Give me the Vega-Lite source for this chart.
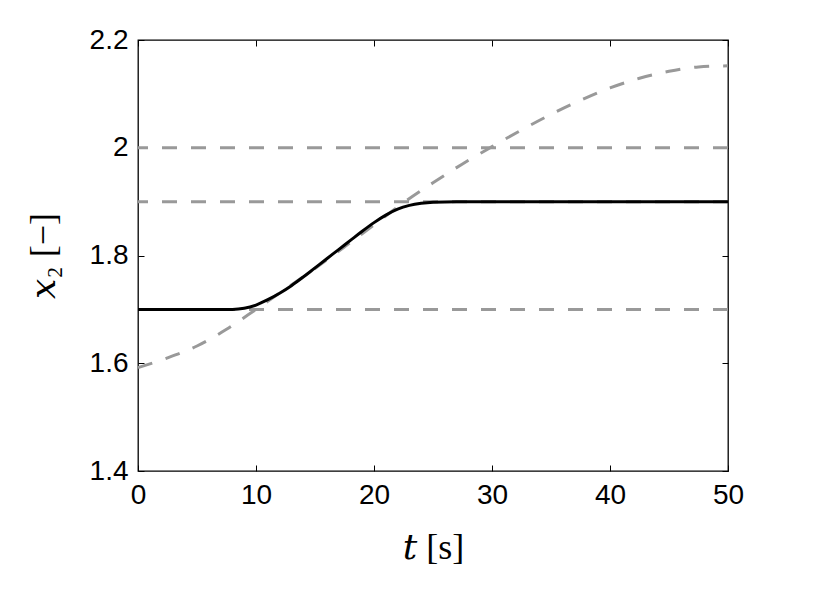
{
  "$schema": "https://vega.github.io/schema/vega-lite/v6.json",
  "width": 590,
  "height": 431,
  "autosize": {"type": "none"},
  "padding": {"left": 138, "top": 40, "right": 101, "bottom": 119},
  "background": "white",
  "config": {
    "view": {"stroke": "#000000", "strokeWidth": 1.3},
    "axis": {
      "labelFont": "Liberation Sans",
      "labelFontSize": 28,
      "labelColor": "#000000",
      "labelFlush": false,
      "labelOverlap": false,
      "tickColor": "#000000",
      "tickSize": -6,
      "tickWidth": 1,
      "domain": false,
      "gridColor": "#000000",
      "gridDash": [1.2, 9.8],
      "gridWidth": 1,
      "gridOpacity": 0.85,
      "titleFont": "Liberation Serif, DejaVu Serif",
      "titleFontWeight": "normal",
      "titleFontSize": 36,
      "titleColor": "#000000"
    }
  },
  "datasets": {
    "levels": [{"level": 1.7}, {"level": 1.9}, {"level": 2.0}],
    "state": [
      {"t": 0, "x": 1.7}, {"t": 5, "x": 1.7}, {"t": 8, "x": 1.7}, {"t": 9, "x": 1.702},
      {"t": 10, "x": 1.708}, {"t": 11, "x": 1.718}, {"t": 12, "x": 1.730}, {"t": 13, "x": 1.744},
      {"t": 14, "x": 1.760}, {"t": 15, "x": 1.777}, {"t": 16, "x": 1.794}, {"t": 17, "x": 1.811},
      {"t": 18, "x": 1.828}, {"t": 19, "x": 1.845}, {"t": 20, "x": 1.861}, {"t": 21, "x": 1.875},
      {"t": 22, "x": 1.886}, {"t": 23, "x": 1.893}, {"t": 24, "x": 1.897}, {"t": 25, "x": 1.899},
      {"t": 27, "x": 1.9}, {"t": 30, "x": 1.9}, {"t": 40, "x": 1.9}, {"t": 50, "x": 1.9}
    ],
    "reference": [
      {"t": 0, "x": 1.592}, {"t": 2.5, "x": 1.610}, {"t": 5, "x": 1.632}, {"t": 7.5, "x": 1.663},
      {"t": 10, "x": 1.700}, {"t": 12.5, "x": 1.738}, {"t": 15, "x": 1.776}, {"t": 17.5, "x": 1.816},
      {"t": 20, "x": 1.857}, {"t": 22.5, "x": 1.898}, {"t": 25, "x": 1.935}, {"t": 27.5, "x": 1.970},
      {"t": 30, "x": 2.002}, {"t": 32.5, "x": 2.033}, {"t": 35, "x": 2.062}, {"t": 37.5, "x": 2.088},
      {"t": 40, "x": 2.111}, {"t": 42.5, "x": 2.129}, {"t": 45, "x": 2.142}, {"t": 47.5, "x": 2.150},
      {"t": 50, "x": 2.152}
    ]
  },
  "resolve": {"axis": {"x": "independent", "y": "independent"}},
  "layer": [
    {
      "data": {"name": "levels"},
      "mark": {"type": "rule", "color": "#999999", "strokeWidth": 3, "strokeDash": [15, 14]},
      "encoding": {
        "y": {"field": "level", "type": "quantitative", "axis": null,
              "scale": {"domain": [1.4, 2.2], "nice": false, "zero": false}}
      }
    },
    {
      "data": {"name": "reference"},
      "mark": {"type": "line", "color": "#999999", "strokeWidth": 3, "strokeDash": [15, 14], "interpolate": "monotone"},
      "encoding": {
        "x": {"field": "t", "type": "quantitative",
              "scale": {"domain": [0, 50], "nice": false, "zero": false},
              "axis": {"orient": "top", "values": [0, 10, 20, 30, 40, 50], "labels": false,
                       "grid": false, "title": null}},
        "y": {"field": "x", "type": "quantitative",
              "scale": {"domain": [1.4, 2.2], "nice": false, "zero": false},
              "axis": {"orient": "right", "values": [1.4, 1.6, 1.8, 2.0, 2.2], "labels": false,
                       "grid": false, "title": null}}
      }
    },
    {
      "data": {"name": "state"},
      "mark": {"type": "line", "color": "#000000", "strokeWidth": 3, "interpolate": "monotone"},
      "encoding": {
        "x": {"field": "t", "type": "quantitative",
              "scale": {"domain": [0, 50], "nice": false, "zero": false},
              "axis": {"orient": "bottom", "values": [0, 10, 20, 30, 40, 50], "format": "d",
                       "labelPadding": 16, "title": "𝑡 [s]",
                       "titleBaseline": "alphabetic", "titleX": 295, "titleY": 87}},
        "y": {"field": "x", "type": "quantitative",
              "scale": {"domain": [1.4, 2.2], "nice": false, "zero": false},
              "axis": {"orient": "left", "values": [1.4, 1.6, 1.8, 2.0, 2.2], "format": "~g",
                       "labelPadding": 16, "title": "𝑥₂ [−]",
                       "titleBaseline": "alphabetic", "titleX": -84, "titleY": 215.5}}
      }
    }
  ]
}
